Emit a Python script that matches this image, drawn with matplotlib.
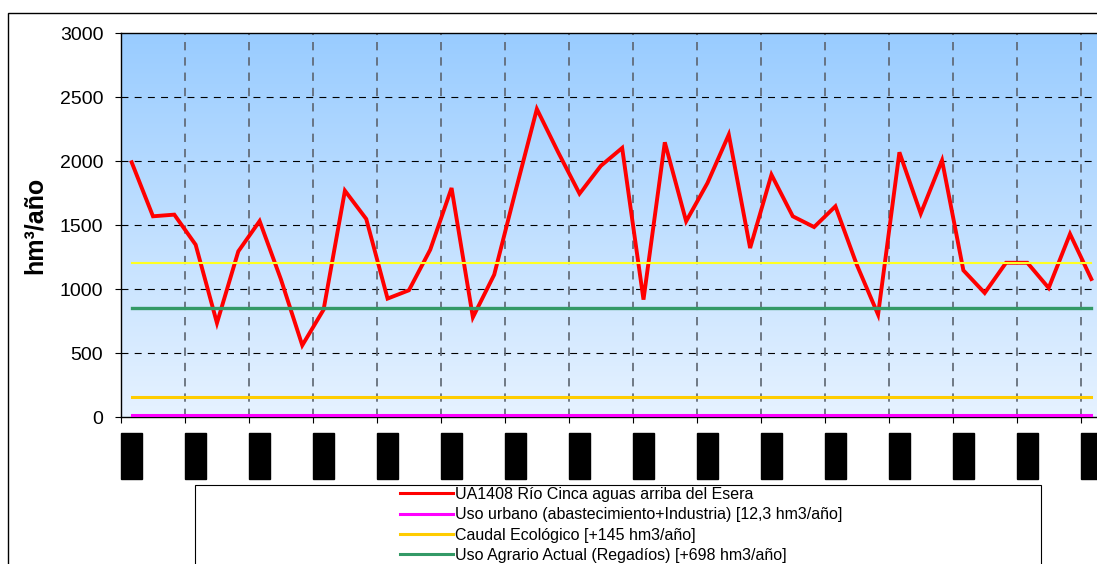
import numpy as np
import matplotlib.pyplot as plt
from matplotlib.patches import Rectangle

plt.rcParams['font.family'] = ['Liberation Sans', 'DejaVu Sans']
plt.rcParams['lines.scale_dashes'] = False

# hydrological years (46 values)
years = [f'{y}/{str(y + 1)[-2:]}' for y in range(1940, 1986)]
caudal = [1990, 1568, 1581, 1346, 734, 1294, 1531, 1075, 560, 839,
          1768, 1547, 925, 990, 1307, 1789, 779, 1112, 1765, 2406,
          2068, 1745, 1962, 2102, 917, 2146, 1529, 1828, 2206, 1320,
          1893, 1568, 1484, 1646, 1190, 800, 2068, 1589, 2005, 1146,
          969, 1205, 1205, 1008, 1430, 1078]

uso_urbano = 12.3
caudal_eco = 12.3 + 145
uso_agrario = 12.3 + 145 + 698
nivel_amarillo = 1202

labels = ['UA1408 Río Cinca aguas arriba del Esera',
          'Uso urbano (abastecimiento+Industria) [12,3 hm3/año]',
          'Caudal Ecológico [+145 hm3/año]',
          'Uso Agrario Actual (Regadíos) [+698 hm3/año]']

W, H = 1097, 564
fig = plt.figure(figsize=(W / 100, H / 100), dpi=100)
ax = fig.add_axes([121 / W, 1 - 417 / H, 981 / W, 384 / H])

n = len(caudal)
x = np.arange(n)

# gradient background
grad = np.linspace(0, 1, 256)[:, None]
top = np.array([153, 204, 255]) / 255
bot = np.array([230, 242, 255]) / 255
img = bot + (top - bot) * grad[..., None]
ax.imshow(img, extent=[-0.5, n - 0.5, 0, 3000], origin='lower',
          aspect='auto', zorder=0)

ax.set_xlim(-0.5, n - 0.5)
ax.set_ylim(0, 3000)

# grid
for yv in range(500, 3000, 500):
    ax.axhline(yv, color='black', lw=0.8, dashes=(5, 4.5), zorder=1)
for xv in np.arange(2.5, n - 0.5, 3):
    ax.axvline(xv, color='#5c6470', lw=1.2, dashes=(6, 5), zorder=1)

l1, = ax.plot(x, caudal, color='#ff0000', lw=2.8, zorder=3,
              solid_joinstyle='miter')
l2, = ax.plot(x, [uso_urbano] * n, color='#ff00ff', lw=2.2, zorder=4)
l3, = ax.plot(x, [caudal_eco] * n, color='#ffcc00', lw=2.2, zorder=4)
l4, = ax.plot(x, [uso_agrario] * n, color='#339966', lw=2.4, zorder=4)
ax.plot(x, [nivel_amarillo] * n, color='#ffff22', lw=1.5, zorder=4)

ax.set_yticks(range(0, 3001, 500))
ax.tick_params(axis='y', labelsize=14, length=4.3, pad=8.5, direction='out')
ax.set_xticks(np.arange(-0.5, n, 3))
ax.tick_params(axis='x', which='major', labelbottom=False, length=4.3, direction='out')
ax.set_xticks(x[::3], [years[i] for i in x[::3]], minor=True)
ax.tick_params(axis='x', which='minor', length=0, pad=15.3, labelsize=7)
for t in ax.get_xticklabels(minor=True):
    t.set_rotation(90)
    t.set_bbox(dict(facecolor='black', edgecolor='black', pad=3.8))

for s in ['left', 'top', 'bottom']:
    ax.spines[s].set_color('black')
    ax.spines[s].set_linewidth(1)
ax.spines['right'].set_visible(False)

fig.text(35 / W, 1 - 225 / H, 'hm³/año', rotation=90, ha='center',
         va='center', fontsize=18, fontweight='bold')

# outer frame and legend box
fig.add_artist(Rectangle((8 / W, -0.1), 1.2, 1 - 13 / H + 0.1,
                         transform=fig.transFigure, fill=False,
                         edgecolor='black', lw=1))
fig.add_artist(Rectangle((195 / W, -0.1), (1041 - 195) / W, 1 - 485 / H + 0.1,
                         transform=fig.transFigure, fill=False,
                         edgecolor='black', lw=0.8))

leg = fig.legend([l1, l2, l3, l4], labels, loc='upper left',
                 bbox_to_anchor=(400 / W, 1 - 487 / H), frameon=False,
                 fontsize=11.5, borderpad=0, borderaxespad=0,
                 handlelength=3.3, handletextpad=0.17, labelspacing=0.33)
for h in leg.legend_handles:
    h.set_linewidth(2.2)

fig.savefig('out.png', dpi=100)
